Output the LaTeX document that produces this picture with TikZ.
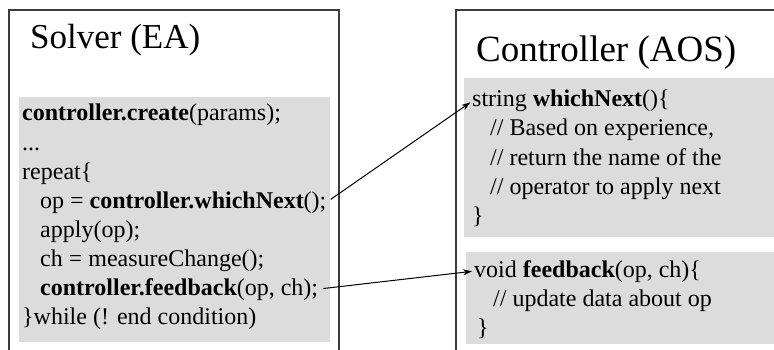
\documentclass[tikz,border=0pt]{standalone}
\usepackage{fontspec}
\setmainfont{Liberation Serif}
\usetikzlibrary{arrows.meta}
\definecolor{codegray}{RGB}{220,220,220}
\definecolor{framegray}{RGB}{60,60,60}

\begin{document}
\begin{tikzpicture}[x=1pt,y=-1pt,
    frame/.style={draw=framegray,line width=1.5pt},
    panel/.style={fill=codegray},
    title/.style={anchor=base west,inner sep=0pt,font=\fontsize{35}{42}\selectfont},
    code/.style={anchor=base west,inner sep=0pt,font=\fontsize{24}{29}\selectfont},
    call/.style={-{Stealth[length=9pt,width=6pt]},line width=1pt,shorten <=5pt,shorten >=2pt}]
    \useasboundingbox (0,0) rectangle (774,350);

    % Left box - the solver
    \draw[frame] (9,350) -- (9,10) -- (339,10) -- (339,350);
    \fill[panel] (19,97) rectangle (330,342);
    \node[title] (solver) at (30,49) {Solver (EA)};
    \node[code] (create) at (22,121) {\textbf{controller.create}(params);};
    \node[code] (dots) at (22,150) {...};
    \node[code] (repeat) at (22,179) {repeat\{};
    \node[code] (callnext) at (40,208) {op = \textbf{controller.whichNext}();};
    \node[code] (apply) at (40,237) {apply(op);};
    \node[code] (measure) at (40,266) {ch = measureChange();};
    \node[code] (callfeed) at (40,295) {\textbf{controller.feedback}(op, ch);};
    \node[code] (until) at (22,324) {\}while (! end condition)};

    % Right box - the controller
    \draw[frame] (774,10) -- (456,10) -- (456,350);
    \fill[panel] (464,78) rectangle (774,237);
    \fill[panel] (466,252) rectangle (774,344);
    \node[title,font=\fontsize{37}{44}\selectfont] (controller) at (476,62) {Controller (AOS)};
    \node[code] (whichnext) at (472,107) {string \textbf{whichNext}()\{};
    \node[code] (based) at (490,136) {// Based on experience,};
    \node[code] (retname) at (490,165) {// return the name of the};
    \node[code] (opnext) at (490,194) {// operator to apply next};
    \node[code] (endnext) at (472,223) {\}};
    \node[code] (feedback) at (474,277) {void \textbf{feedback}(op, ch)\{};
    \node[code] (update) at (493,306) {// update data about op};
    \node[code] (endfeed) at (477,335) {\}};

    % Calls from the solver into the controller
    \draw[call] (callnext.east) -- (whichnext.west);
    \draw[call] (callfeed.east) -- (feedback.west);
\end{tikzpicture}
\end{document}
